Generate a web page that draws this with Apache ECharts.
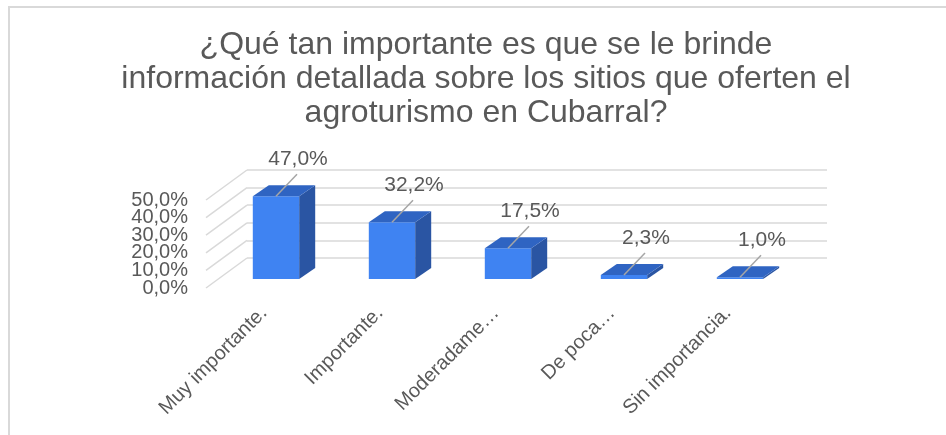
<!DOCTYPE html>
<html>
<head>
<meta charset="utf-8">
<script src="https://cdn.jsdelivr.net/npm/echarts@6.0.0/dist/echarts.min.js"></script>
<style>
  html, body { margin: 0; padding: 0; background: #fff; }
  #chart { width: 946px; height: 435px; }
</style>
</head>
<body>
<div id="chart"></div>
<script>
// datos de la encuesta
var categories = ['Muy importante.', 'Importante.', 'Moderadame\u2026', 'De poca\u2026', 'Sin importancia.'];
var percentages = [47.0, 32.2, 17.5, 2.3, 1.0];
var tickValues = [0, 10, 20, 30, 40, 50];

var titleText = '¿Qué tan importante es que se le brinde\ninformación detallada sobre los sitios que oferten el\nagroturismo en Cubarral?';

// proyección 3D (píxeles)
var floorDX = 41, floorDY = -30;   // profundidad del piso
var barShiftX = 12, barShiftY = -9; // cara frontal de la barra
var barDX = 16, barDY = -11;        // profundidad de la barra

var frontLeft = 206, frontBottom = 288, plotW = 580, plotH = 88;

var textColor = '#595959';
var gridColor = '#d9d9d9';
var font = 'Liberation Sans, Arial, sans-serif';

function fmtPct(v) {
    return v.toFixed(1).replace('.', ',') + '%';
}

var myChart = echarts.init(document.getElementById('chart'));

function renderBar(params, api) {
    var v = api.value(1);
    var base = api.coord([api.value(0), 0]);
    var top = api.coord([api.value(0), v]);
    var bw = api.size([1, 0])[0] * 0.4;
    var x0 = base[0] - bw / 2, x1 = base[0] + bw / 2;
    var yb = base[1], yt = top[1];
    var cx = base[0];
    return {
        type: 'group',
        children: [
            {
                type: 'rect',
                shape: { x: x0, y: yt, width: bw, height: yb - yt },
                style: { fill: '#3f83f2' }
            },
            {
                type: 'polygon',
                shape: { points: [[x1, yt], [x1, yb], [x1 + barDX, yb + barDY], [x1 + barDX, yt + barDY]] },
                style: { fill: '#2a55a3' }
            },
            {
                type: 'polygon',
                shape: { points: [[x0, yt], [x1, yt], [x1 + barDX, yt + barDY], [x0 + barDX, yt + barDY]] },
                style: { fill: '#2f64c2' }
            },
            {
                type: 'line',
                shape: { x1: cx, y1: yt, x2: cx + 21, y2: yt - 22 },
                style: { stroke: '#a6a6a6', lineWidth: 1.5 }
            },
            {
                type: 'text',
                x: cx + 22,
                y: yt - 37,
                style: {
                    text: fmtPct(v),
                    fill: textColor,
                    fontSize: 21,
                    fontFamily: font,
                    align: 'center',
                    verticalAlign: 'middle'
                }
            }
        ]
    };
}

// líneas de la pared izquierda
function renderDiag(params, api) {
    var cs = params.coordSys;
    var y = api.coord([0, api.value(1)])[1];
    return {
        type: 'line',
        shape: { x1: cs.x, y1: y, x2: cs.x - floorDX, y2: y - floorDY },
        style: { stroke: gridColor, lineWidth: 1.5 }
    };
}

// etiquetas del eje de valores (se solapan, igual que en el original)
function renderTick(params, api) {
    var cs = params.coordSys;
    var y = api.coord([0, api.value(1)])[1];
    return {
        type: 'text',
        x: cs.x - 18,
        y: y,
        style: {
            text: fmtPct(api.value(1)),
            fill: textColor,
            fontSize: 20,
            fontFamily: font,
            align: 'right',
            verticalAlign: 'middle'
        }
    };
}

var option = {
    animation: false,
    title: {
        text: titleText,
        left: 486,
        textAlign: 'center',
        top: 28,
        padding: 0,
        textStyle: {
            color: textColor,
            fontSize: 32,
            fontWeight: 'normal',
            lineHeight: 34,
            fontFamily: font
        }
    },
    graphic: [
        {
            type: 'polyline',
            shape: { points: [[9, 440], [9, 7], [950, 7]] },
            style: { stroke: '#d9d9d9', lineWidth: 2, fill: null }
        }
    ],
    grid: [
        // plano frontal (etiquetas de ejes)
        { left: frontLeft, top: frontBottom - plotH, width: plotW, height: plotH },
        // plano de las barras
        { left: frontLeft + barShiftX, top: frontBottom + barShiftY - plotH, width: plotW, height: plotH },
        // pared del fondo
        { left: frontLeft + floorDX, top: frontBottom + floorDY - plotH, width: plotW, height: plotH }
    ],
    xAxis: [
        {
            gridIndex: 0, type: 'category', data: categories,
            axisLine: { show: false }, axisTick: { show: false },
            axisLabel: {
                rotate: 45, margin: 22, interval: 0,
                color: textColor, fontSize: 20, fontFamily: font
            }
        },
        { gridIndex: 1, type: 'category', data: categories, show: false },
        { gridIndex: 2, type: 'category', data: categories, show: false }
    ],
    yAxis: [
        {
            gridIndex: 0, type: 'value', min: 0, max: 50, interval: 10,
            axisLine: { show: false }, axisTick: { show: false },
            splitLine: { show: false },
            axisLabel: { show: false }
        },
        { gridIndex: 1, type: 'value', min: 0, max: 50, show: false },
        {
            gridIndex: 2, type: 'value', min: 0, max: 50, interval: 10,
            axisLine: { show: false }, axisTick: { show: false },
            axisLabel: { show: false },
            splitLine: { show: true, lineStyle: { color: gridColor, width: 1.5 } }
        }
    ],
    series: [
        {
            type: 'custom',
            xAxisIndex: 2, yAxisIndex: 2,
            renderItem: renderDiag,
            data: tickValues.map(function (v) { return [0, v]; }),
            silent: true
        },
        {
            type: 'custom',
            xAxisIndex: 0, yAxisIndex: 0,
            renderItem: renderTick,
            data: tickValues.map(function (v) { return [0, v]; }),
            silent: true
        },
        {
            type: 'custom',
            xAxisIndex: 1, yAxisIndex: 1,
            renderItem: renderBar,
            data: percentages.map(function (v, i) { return [i, v]; }),
            z: 3
        }
    ]
};

myChart.setOption(option);
</script>
</body>
</html>
